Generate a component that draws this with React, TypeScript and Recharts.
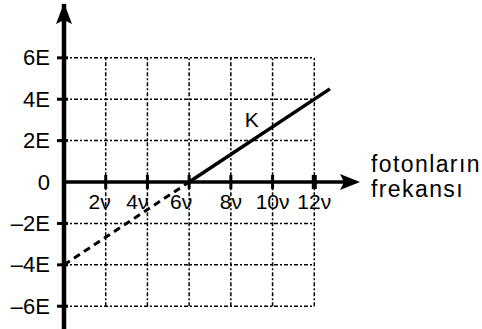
import React from "react";
import { LineChart, Line, XAxis, YAxis, ReferenceLine, ReferenceDot } from "recharts";

// K line: solid above the threshold, dashed extension down to the energy axis
const solidK = [
  { f: 6, e: 0 },
  { f: 12.75, e: 4.5 },
];
const dashedK = [
  { f: 0, e: -4 },
  { f: 6, e: 0 },
];

const freqTicks = [2, 4, 6, 8, 10, 12];
const energyTicks = [-6, -4, -2, 0, 2, 4, 6];
const freqLabels = ["2ν", "4ν", "6ν", "8ν", "10ν", "12ν"];
const energyLabels = ["–6E", "–4E", "–2E", "0", "2E", "4E", "6E"];

const FONT = "'Liberation Sans', Arial, sans-serif";
const GRID_DASH = "4 2 2 2";

// nudges so the left labels stay clear of the dashed line
const labelShift: Record<number, number> = { 2: -6, 4: -10, 6: -8 };

function EnergyTick(props: any) {
  const { x, y, payload } = props;
  const i = energyTicks.indexOf(payload.value);
  return (
    <g>
      {payload.value !== 0 && (
        <line x1={x + 7} x2={x + 18} y1={y} y2={y} stroke="#000" strokeWidth={3} />
      )}
      <text
        x={x}
        y={y}
        textAnchor="end"
        dominantBaseline="central"
        fontSize={22}
        fontFamily={FONT}
        fill="#000"
      >
        {energyLabels[i]}
      </text>
    </g>
  );
}

function freqTickShape(v: number, label: string) {
  return (p: any) => (
    <g>
      <line
        x1={p.cx}
        x2={p.cx}
        y1={p.cy - 7}
        y2={p.cy + 7}
        stroke="#000"
        strokeWidth={v === 12 ? 5 : 3}
      />
      <text
        x={p.cx + (labelShift[v] || 0)}
        y={p.cy + 27}
        textAnchor="middle"
        fontSize={21}
        fontFamily={FONT}
        fill="#000"
      >
        {label}
      </text>
    </g>
  );
}

const UpArrow = (p: any) => (
  <path
    d={`M${p.cx},${p.cy - 1} L${p.cx + 8},${p.cy + 20} L${p.cx},${p.cy + 16} L${p.cx - 8},${p.cy + 20} Z`}
    fill="#000"
  />
);

const RightArrow = (p: any) => (
  <g>
    <path
      d={`M${p.cx + 4},${p.cy} L${p.cx - 16},${p.cy - 8} L${p.cx - 12},${p.cy} L${p.cx - 16},${p.cy + 8} Z`}
      fill="#000"
    />
    <text x={p.cx + 15} y={p.cy - 10} fontSize={23} letterSpacing={1.4} fontFamily={FONT} fill="#000">
      fotonların
    </text>
    <text x={p.cx + 15} y={p.cy + 15} fontSize={23} letterSpacing={1.4} fontFamily={FONT} fill="#000">
      frekansı
    </text>
  </g>
);

const KLabel = (p: any) => (
  <text
    x={p.cx}
    y={p.cy}
    textAnchor="middle"
    dominantBaseline="central"
    fontSize={21}
    fontFamily={FONT}
    fill="#000"
  >
    K
  </text>
);

export default function App() {
  return (
    <div style={{ position: "absolute", left: 0, top: 0, background: "#fff" }}>
      <LineChart
        width={482}
        height={329}
        margin={{ top: 4, right: 126, bottom: 0, left: 0 }}
      >
        <XAxis
          type="number"
          dataKey="f"
          domain={[0, 14]}
          allowDataOverflow
          hide
        />
        <YAxis
          type="number"
          dataKey="e"
          domain={[-7.1, 8.6]}
          allowDataOverflow
          ticks={energyTicks}
          width={64}
          axisLine={false}
          tickLine={false}
          tickSize={6}
          tickMargin={8}
          tick={<EnergyTick />}
        />

        {energyTicks
          .filter((v) => v !== 0)
          .map((v) => (
            <ReferenceLine
              key={"h" + v}
              segment={[
                { x: 0, y: v },
                { x: 12, y: v },
              ]}
              stroke="#000"
              strokeWidth={1.5}
              strokeDasharray={GRID_DASH}
            />
          ))}
        {freqTicks.map((v) => (
          <ReferenceLine
            key={"v" + v}
            segment={[
              { x: v, y: -6 },
              { x: v, y: 6 },
            ]}
            stroke="#000"
            strokeWidth={1.5}
            strokeDasharray={GRID_DASH}
          />
        ))}

        <ReferenceLine x={0} stroke="#000" strokeWidth={4.5} />
        <ReferenceLine
          segment={[
            { x: 0, y: 0 },
            { x: 14, y: 0 },
          ]}
          stroke="#000"
          strokeWidth={3.5}
        />

        <Line
          data={dashedK}
          dataKey="e"
          stroke="#000"
          strokeWidth={3}
          strokeDasharray="7 5"
          dot={false}
          isAnimationActive={false}
        />
        <Line
          data={solidK}
          dataKey="e"
          stroke="#000"
          strokeWidth={3.5}
          dot={false}
          isAnimationActive={false}
        />

        {freqTicks.map((v, i) => (
          <ReferenceDot
            key={"t" + v}
            x={v}
            y={0}
            r={0}
            ifOverflow="visible"
            shape={freqTickShape(v, freqLabels[i])}
          />
        ))}
        <ReferenceDot x={9} y={3} r={0} ifOverflow="visible" shape={KLabel} />
        <ReferenceDot x={0} y={8.6} r={0} ifOverflow="visible" shape={UpArrow} />
        <ReferenceDot x={14} y={0} r={0} ifOverflow="visible" shape={RightArrow} />
      </LineChart>
    </div>
  );
}
